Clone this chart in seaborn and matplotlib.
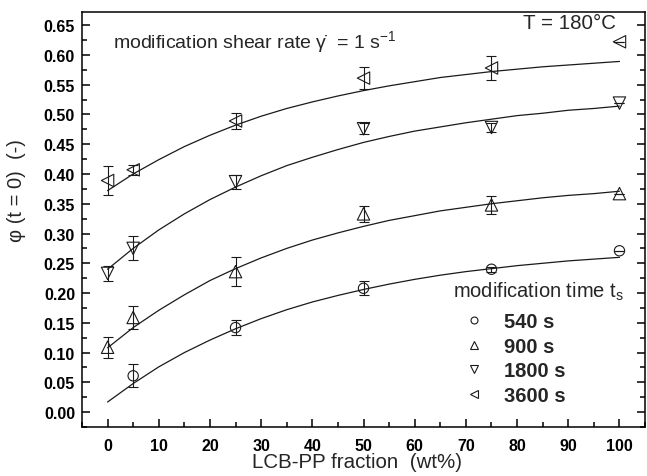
import numpy as np
import pandas as pd
import matplotlib
matplotlib.use("Agg")
import matplotlib.pyplot as plt
from matplotlib.lines import Line2D
from matplotlib.ticker import MultipleLocator, FormatStrFormatter
import seaborn as sns

sns.set_style("ticks")
plt.rcParams['font.family'] = ['Liberation Sans', 'DejaVu Sans']
plt.rcParams['mathtext.fontset'] = 'custom'
plt.rcParams['mathtext.rm'] = 'Liberation Sans'
plt.rcParams['mathtext.it'] = 'Liberation Sans:italic'
plt.rcParams['mathtext.bf'] = 'Liberation Sans:bold'

# ---- data ----
series_labels = ["540 s", "900 s", "1800 s", "3600 s"]

x_540 = [5, 25, 50, 75, 100]
y_540 = [0.061, 0.142, 0.208, 0.240, 0.271]
e_540 = [0.019, 0.012, 0.012, 0.004, 0.0]

x_900 = [0, 5, 25, 50, 75, 100]
y_900 = [0.109, 0.159, 0.236, 0.333, 0.348, 0.367]
e_900 = [0.018, 0.019, 0.024, 0.014, 0.015, 0.0]

x_1800 = [0, 5, 25, 50, 75, 100]
y_1800 = [0.233, 0.275, 0.387, 0.476, 0.478, 0.519]
e_1800 = [0.013, 0.020, 0.012, 0.009, 0.008, 0.0]

x_3600 = [0, 5, 25, 50, 75, 100]
y_3600 = [0.389, 0.407, 0.489, 0.561, 0.578, 0.622]
e_3600 = [0.025, 0.008, 0.014, 0.018, 0.020, 0.0]

# fitted curves
fit_x = [0, 5, 10, 15, 20, 25, 30, 35, 40, 45, 50, 55, 60, 65, 70, 75, 80, 85, 90, 95, 100]
fit_540 = [0.017, 0.048, 0.076, 0.100, 0.121, 0.140, 0.157, 0.172, 0.185, 0.196, 0.206,
           0.215, 0.223, 0.230, 0.236, 0.241, 0.246, 0.250, 0.254, 0.257, 0.260]
fit_900 = [0.108, 0.142, 0.171, 0.197, 0.221, 0.241, 0.259, 0.275, 0.289, 0.301, 0.312,
           0.322, 0.330, 0.338, 0.344, 0.350, 0.355, 0.360, 0.364, 0.367, 0.371]
fit_1800 = [0.240, 0.275, 0.306, 0.333, 0.357, 0.378, 0.397, 0.414, 0.428, 0.441, 0.453,
            0.463, 0.472, 0.479, 0.486, 0.492, 0.498, 0.502, 0.507, 0.510, 0.514]
fit_3600 = [0.372, 0.400, 0.424, 0.446, 0.465, 0.482, 0.497, 0.510, 0.521, 0.531, 0.540,
            0.548, 0.555, 0.562, 0.567, 0.572, 0.576, 0.580, 0.583, 0.586, 0.589]

x_ticks = [0, 10, 20, 30, 40, 50, 60, 70, 80, 90, 100]
y_ticks = [0.00, 0.05, 0.10, 0.15, 0.20, 0.25, 0.30, 0.35, 0.40, 0.45, 0.50, 0.55, 0.60, 0.65]

# ---- figure ----
fig = plt.figure(figsize=(6.47, 4.77), dpi=100)
ax = fig.add_axes([0.1267, 0.1027, 0.8703, 0.870])

series = [
    (x_540, y_540, e_540, fit_540, 'o', 55, 5.0),
    (x_900, y_900, e_900, fit_900, '^', 80, 6.0),
    (x_1800, y_1800, e_1800, fit_1800, 'v', 80, 6.0),
    (x_3600, y_3600, e_3600, fit_3600, '<', 80, 6.0),
]

for xs, ys, es, fit, mk, sz, _ in series:
    sns.lineplot(x=fit_x, y=fit, ax=ax, color='#1a1a1a', lw=0.9, sort=False)
    ax.errorbar(xs, ys, yerr=es, fmt='none', ecolor='#1a1a1a', elinewidth=0.8,
                capsize=3.5, capthick=0.8, zorder=3)
    sns.scatterplot(x=xs, y=ys, ax=ax, marker=mk, s=sz, facecolor='none',
                    edgecolor='#1a1a1a', linewidth=0.8, zorder=4, legend=False)

ax.set_xlim(-5, 105)
ax.set_ylim(-0.025, 0.672)
ax.set_xticks(x_ticks)
ax.set_yticks(y_ticks)
ax.xaxis.set_minor_locator(MultipleLocator(5))
ax.yaxis.set_minor_locator(MultipleLocator(0.025))
ax.yaxis.set_major_formatter(FormatStrFormatter('%.2f'))

for s in ax.spines.values():
    s.set_linewidth(1.1)
    s.set_color('black')

ax.tick_params(axis='both', which='both', direction='in', width=1.1, colors='black')
ax.tick_params(axis='both', which='major', length=6)
ax.tick_params(axis='both', which='minor', length=3.5)
ax.tick_params(axis='y', which='both', left=True, right=True)
ax.tick_params(axis='x', which='both', bottom=True, top=False)
ax.tick_params(axis='x', which='major', pad=8)
ax.tick_params(axis='y', which='major', pad=5)
for lab in ax.get_xticklabels() + ax.get_yticklabels():
    lab.set_fontsize(11.5)
    lab.set_fontweight('bold')

ax.set_xlabel("LCB-PP fraction  (wt%)", fontsize=14.8)
ax.set_ylabel("φ (t = 0)  (-)", fontsize=14.5)
ax.xaxis.set_label_coords(0.489, -0.06)
ax.yaxis.set_label_coords(-0.100, 0.573)
ax.xaxis.label.set_va('top')

ax.text(0.055, 0.930, "modification shear rate γ\u0307  = 1 s$^{-1}$",
        transform=ax.transAxes, ha='left', va='center', fontsize=14)
ax.text(0.783, 0.975, "T = 180°C", transform=ax.transAxes, ha='left', va='center',
        fontsize=14.8)
ax.text(0.659, 0.328, r"modification time t$_{\mathrm{s}}$", transform=ax.transAxes,
        ha='left', va='center', fontsize=14.5)

handles = [Line2D([], [], marker=mk, ls='none', markerfacecolor='none',
                  markeredgecolor='#1a1a1a', markeredgewidth=0.8, markersize=ms)
           for (_, _, _, _, mk, _, ms) in series]
leg = ax.legend(handles, series_labels, loc='upper left',
                bbox_to_anchor=(0.6785, 0.276), frameon=False, fontsize=14.5,
                handlelength=1.0, handletextpad=1.0, borderpad=0, borderaxespad=0,
                labelspacing=0.27)
for t in leg.get_texts():
    t.set_fontweight('bold')

fig.savefig("out.png", dpi=100)
